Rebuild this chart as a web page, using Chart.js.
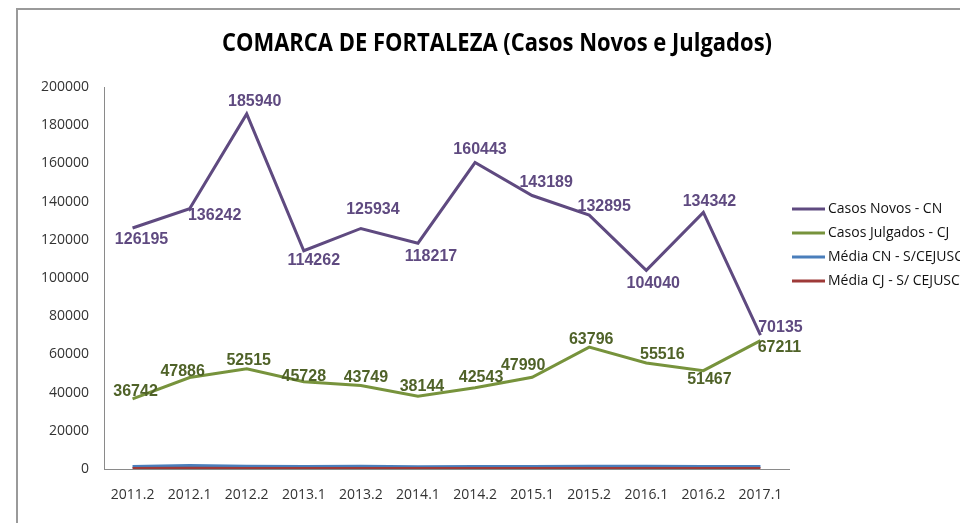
<!DOCTYPE html>
<html lang="pt-BR">
<head>
<meta charset="utf-8">
<title>Comarca de Fortaleza</title>
<script src="https://cdn.jsdelivr.net/npm/chart.js@4.4.1/dist/chart.umd.min.js"></script>
<style>
    html, body { margin: 0; padding: 0; background: #ffffff; }
    .chart-wrap { position: relative; width: 960px; height: 523px; overflow: hidden; }
    .chart-frame {
        position: absolute;
        left: 16px;
        top: 8px;
        width: 1000px;
        height: 600px;
        border-left: 2px solid #9a9a9a;
        border-top: 2px solid #9a9a9a;
    }
    #fortaleza-chart { position: absolute; left: 0; top: 0; }
</style>
</head>
<body>
<div class="chart-wrap">
    <div class="chart-frame"></div>
    <canvas id="fortaleza-chart" width="960" height="523"></canvas>
</div>
<script>
const TITLE = 'COMARCA DE FORTALEZA (Casos Novos e Julgados)';

const periods = ['2011.2', '2012.1', '2012.2', '2013.1', '2013.2', '2014.1',
    '2014.2', '2015.1', '2015.2', '2016.1', '2016.2', '2017.1'];

const casosNovos = [126195, 136242, 185940, 114262, 125934, 118217,
    160443, 143189, 132895, 104040, 134342, 70135];
const casosJulgados = [36742, 47886, 52515, 45728, 43749, 38144,
    42543, 47990, 63796, 55516, 51467, 67211];
const mediaCN = [1300, 1800, 1500, 1300, 1400, 1200, 1300, 1300, 1400, 1400, 1300, 1300];
const mediaCJ = [300, 350, 250, 200, 300, 250, 200, 250, 300, 300, 200, 250];

const yTicks = [0, 20000, 40000, 60000, 80000, 100000, 120000, 140000, 160000, 180000, 200000];

// label placement around each point, in pixels (dx, dy from the point)
const cnLabelOffsets = [[9, 12], [25, 7], [8, -12], [10, 10], [12, -19], [13, 13],
    [5, -13], [14, -13], [15, -9], [7, 13], [6, -11], [20, -7]];
const cjLabelOffsets = [[3, -7], [-7, -6], [2, -8], [0, -5], [5, -8], [4, -10],
    [6, -10], [-9, -12], [2, -8], [16, -8], [6, 9], [19, 7]];

const COLOR_CN = '#5f4a80';
const COLOR_CJ = '#77933c';
const COLOR_MEDIA_CN = '#4a7ebb';
const COLOR_MEDIA_CJ = '#9e3a38';
const LABEL_CN = '#5f4a80';
const LABEL_CJ = '#4f6228';

const AREA = { left: 104, right: 789, top: 87, bottom: 469 };

const valueLabels = {
    id: 'valueLabels',
    afterDatasetsDraw(chart) {
        const ctx = chart.ctx;
        ctx.save();
        ctx.font = 'bold 16px "Liberation Sans", Arial, sans-serif';
        ctx.textAlign = 'center';
        ctx.textBaseline = 'middle';
        chart.data.datasets.forEach((dataset, index) => {
            if (!dataset._offsets) return;
            const meta = chart.getDatasetMeta(index);
            ctx.fillStyle = dataset._labelColor;
            meta.data.forEach((point, i) => {
                const [dx, dy] = dataset._offsets[i];
                ctx.fillText(String(dataset.data[i]), point.x + dx, point.y + dy);
            });
        });
        ctx.restore();
    }
};

const titleAndLegend = {
    id: 'titleAndLegend',
    afterDraw(chart) {
        const ctx = chart.ctx;
        ctx.save();
        ctx.fillStyle = '#000000';
        ctx.textAlign = 'center';
        ctx.textBaseline = 'middle';
        // narrow bold title: squeeze Open Sans Bold to the title width
        ctx.font = 'bold 25px "Open Sans", sans-serif';
        const titleWidth = 550;
        const natural = ctx.measureText(TITLE).width;
        ctx.save();
        ctx.translate(497, 44);
        ctx.scale(Math.min(1, titleWidth / natural), 1);
        ctx.fillText(TITLE, 0, 0);
        ctx.restore();

        ctx.textAlign = 'left';
        ctx.font = '14px "Open Sans", sans-serif';
        chart.data.datasets.forEach((dataset, index) => {
            const y = 209 + index * 24;
            ctx.strokeStyle = dataset.borderColor;
            ctx.lineWidth = 3;
            ctx.beginPath();
            ctx.moveTo(792, y);
            ctx.lineTo(825, y);
            ctx.stroke();
            ctx.fillStyle = '#111111';
            ctx.fillText(dataset.label, 828, y);
        });
        ctx.restore();
    }
};

function lineDataset(label, data, color, order) {
    return {
        label,
        data,
        borderColor: color,
        backgroundColor: color,
        borderWidth: 3,
        pointRadius: 0,
        pointHoverRadius: 0,
        tension: 0,
        fill: false,
        order
    };
}

const datasets = [
    Object.assign(lineDataset('Casos Novos - CN', casosNovos, COLOR_CN, 0), {
        _offsets: cnLabelOffsets, _labelColor: LABEL_CN
    }),
    Object.assign(lineDataset('Casos Julgados - CJ', casosJulgados, COLOR_CJ, 1), {
        _offsets: cjLabelOffsets, _labelColor: LABEL_CJ
    }),
    lineDataset('Média CN - S/CEJUSC', mediaCN, COLOR_MEDIA_CN, 3),
    lineDataset('Média CJ - S/ CEJUSC', mediaCJ, COLOR_MEDIA_CJ, 2)
];

const tickFont = { family: '"Open Sans", sans-serif', size: 14 };

new Chart(document.getElementById('fortaleza-chart'), {
    type: 'line',
    data: { labels: periods, datasets },
    options: {
        responsive: false,
        animation: false,
        events: [],
        layout: {
            padding: { left: 0, right: 960 - AREA.right, top: AREA.top, bottom: 0 }
        },
        plugins: {
            legend: { display: false },
            title: { display: false },
            tooltip: { enabled: false }
        },
        scales: {
            x: {
                offset: true,
                grid: { display: false, drawTicks: false },
                border: { display: true, color: '#8a8a8a', width: 1 },
                ticks: { color: '#333333', font: tickFont, padding: 18, maxRotation: 0, autoSkip: false },
                afterFit: (scale) => { scale.height = 523 - AREA.bottom; }
            },
            y: {
                min: 0,
                max: 200000,
                afterBuildTicks: (scale) => { scale.ticks = yTicks.map((value) => ({ value })); },
                grid: { display: false, drawTicks: false },
                border: { display: true, color: '#8a8a8a', width: 1 },
                ticks: { color: '#333333', font: tickFont, padding: 15, callback: (value) => String(value) },
                afterFit: (scale) => { scale.width = AREA.left; }
            }
        }
    },
    plugins: [valueLabels, titleAndLegend]
});
</script>
</body>
</html>
